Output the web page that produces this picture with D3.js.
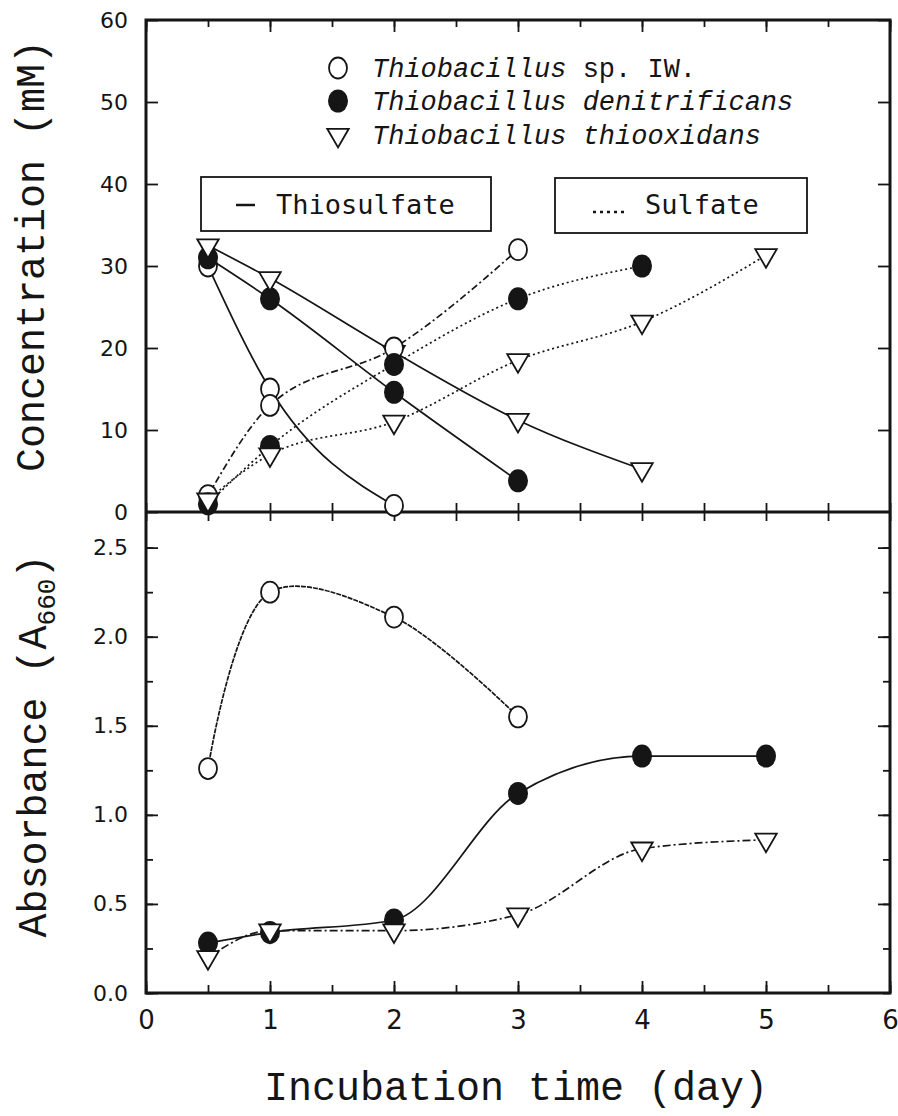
<!DOCTYPE html>
<html>
<head>
<meta charset="utf-8">
<script src="https://cdn.jsdelivr.net/npm/d3@7"></script>
<style>
  body { margin: 0; background: #fff; }
  svg { display: block; }
</style>
</head>
<body>
<div id="chart"></div>
<script>
// sampling days
const days = [0.5, 1, 2, 3, 4, 5]

// Concentration (mM) - thiosulfate
const thioIW = [30, 15, 0.8]
const thioDenit = [31, 26, 14.6, 3.8]
const thioOxid = [32.5, 28.5, 19.5, 11.2, 5.2]

// Concentration (mM) - sulfate
const sulfIW = [2, 13, 20, 32]
const sulfDenit = [1, 8, 18, 26, 30]
const sulfOxid = [1.5, 7, 11, 18.5, 23.2, 31.3]

// Absorbance (A660)
const absIW = [1.26, 2.25, 2.11, 1.55]
const absDenit = [0.28, 0.34, 0.41, 1.12, 1.33, 1.33]
const absOxid = [0.2, 0.35, 0.35, 0.44, 0.81, 0.86]

const xTicks = [0, 1, 2, 3, 4, 5, 6]
const concTicks = [0, 10, 20, 30, 40, 50, 60]
const absTicks = [0, 0.5, 1, 1.5, 2, 2.5]

const legendNames = [
  ["Thiobacillus", " sp. IW."],
  ["Thiobacillus denitrificans", ""],
  ["Thiobacillus thiooxidans", ""]
]

const width = 898
const height = 1116
const ink = "#151515"

const svg = d3.select("#chart")
  .append("svg")
  .attr("width", width)
  .attr("height", height)
  .attr("viewBox", `0 0 ${width} ${height}`)

const x = d3.scaleLinear().domain([0, 6]).range([146, 890])
const yC = d3.scaleLinear().domain([0, 60]).range([512, 20])
const yA = d3.scaleLinear().domain([0, 2.7]).range([993, 512])

const halfDays = d3.range(0, 6.01, 0.5)
const quarterAbs = d3.range(0, 2.7, 0.25)

// --- ticks (inward, no domain) ---
function tickAxis(axis, transform) {
  const g = svg.append("g")
    .attr("transform", transform)
    .call(axis)
  g.select(".domain").remove()
  g.selectAll(".tick line").attr("stroke", ink).attr("stroke-width", 1.8)
  g.selectAll("text").attr("fill", ink)
  return g
}

// top panel
tickAxis(d3.axisLeft(yC).tickValues(concTicks).tickSize(-12).tickPadding(18), "translate(146,0)")
  .selectAll("text")
  .attr("font-family", "DejaVu Sans")
  .attr("font-size", 22)
tickAxis(d3.axisRight(yC).tickValues(concTicks.slice(1)).tickSize(-12).tickFormat(""), "translate(890,0)")
tickAxis(d3.axisTop(x).tickValues(halfDays).tickSize(-7).tickFormat(""), "translate(0,20)")
tickAxis(d3.axisTop(x).tickValues(xTicks).tickSize(-12).tickFormat(""), "translate(0,20)")
tickAxis(d3.axisBottom(x).tickValues(halfDays).tickSize(-9).tickFormat(""), "translate(0,512)")

// bottom panel
tickAxis(d3.axisLeft(yA).tickValues(absTicks).tickSize(-12).tickPadding(18).tickFormat(d3.format(".1f")), "translate(146,0)")
  .selectAll("text")
  .attr("font-family", "DejaVu Sans")
  .attr("font-size", 22)
tickAxis(d3.axisLeft(yA).tickValues(quarterAbs).tickSize(-7).tickFormat(""), "translate(146,0)")
tickAxis(d3.axisRight(yA).tickValues(absTicks.slice(1)).tickSize(-12).tickFormat(""), "translate(890,0)")
tickAxis(d3.axisRight(yA).tickValues(quarterAbs).tickSize(-7).tickFormat(""), "translate(890,0)")
tickAxis(d3.axisTop(x).tickValues(halfDays).tickSize(-9).tickFormat(""), "translate(0,512)")
tickAxis(d3.axisBottom(x).tickValues(halfDays).tickSize(-8).tickFormat(""), "translate(0,993)")
tickAxis(d3.axisBottom(x).tickValues(xTicks).tickSize(-12).tickPadding(18).tickFormat(d3.format("d")), "translate(0,993)")
  .selectAll("text")
  .attr("font-family", "DejaVu Sans")
  .attr("font-size", 26)

// frame
svg.append("rect")
  .attr("x", 146).attr("y", 20)
  .attr("width", 744).attr("height", 973)
  .attr("fill", "none").attr("stroke", ink).attr("stroke-width", 3)
svg.append("line")
  .attr("x1", 146).attr("x2", 890)
  .attr("y1", 512).attr("y2", 512)
  .attr("stroke", ink).attr("stroke-width", 3)

// --- series ---
const series = [
  { v: thioIW, y: yC, mark: "open", dash: null, curve: d3.curveMonotoneX },
  { v: thioDenit, y: yC, mark: "filled", dash: null, curve: d3.curveMonotoneX },
  { v: thioOxid, y: yC, mark: "tri", dash: null, curve: d3.curveMonotoneX },
  { v: sulfIW, y: yC, mark: "open", dash: "7,3,2,3", curve: d3.curveMonotoneX },
  { v: sulfDenit, y: yC, mark: "filled", dash: "2,3", curve: d3.curveMonotoneX },
  { v: sulfOxid, y: yC, mark: "tri", dash: "2,3", curve: d3.curveMonotoneX },
  { v: absIW, y: yA, mark: "open", dash: "5,1", curve: d3.curveCatmullRom },
  { v: absDenit, y: yA, mark: "filled", dash: null, curve: d3.curveMonotoneX },
  { v: absOxid, y: yA, mark: "tri", dash: "8,3,2,3", curve: d3.curveMonotoneX }
]

series.forEach(s => {
  const pts = s.v.map((d, i) => [days[i], d])
  svg.append("path")
    .datum(pts)
    .attr("fill", "none")
    .attr("stroke", ink)
    .attr("stroke-width", 1.7)
    .attr("stroke-dasharray", s.dash)
    .attr("d", d3.line().x(d => x(d[0])).y(d => s.y(d[1])).curve(s.curve))
})

const triangle = d3.symbol().type(d3.symbolTriangle).size(200)

function drawMark(g, kind, cx, cy) {
  if (kind === "open") {
    g.append("ellipse")
      .attr("cx", cx).attr("cy", cy).attr("rx", 9).attr("ry", 10.5)
      .attr("fill", "#fff").attr("stroke", ink).attr("stroke-width", 1.8)
  } else if (kind === "filled") {
    g.append("ellipse")
      .attr("cx", cx).attr("cy", cy).attr("rx", 10).attr("ry", 11.5)
      .attr("fill", ink)
  } else {
    g.append("path")
      .attr("d", triangle())
      .attr("transform", `translate(${cx},${cy}) rotate(180)`)
      .attr("fill", "#fff").attr("stroke", ink).attr("stroke-width", 1.8)
  }
}

const marks = svg.append("g")
series.forEach(s => {
  s.v.forEach((d, i) => drawMark(marks, s.mark, x(days[i]), s.y(d)))
})

// --- legend ---
const kinds = ["open", "filled", "tri"]
const legendY = [68, 101, 135]
legendNames.forEach((n, i) => {
  drawMark(svg, kinds[i], 338, legendY[i])
  const t = svg.append("text")
    .attr("x", 372)
    .attr("y", legendY[i] + 9)
    .attr("font-family", "Liberation Mono")
    .attr("font-size", 27)
    .attr("fill", ink)
  const parts = n[0].split(" ")
  t.append("tspan").attr("font-style", "italic").text(parts[0])
  if (parts[1]) t.append("tspan").attr("font-style", "italic").text(" " + parts[1])
  if (n[1]) t.append("tspan").text(n[1])
})

// line-type boxes
svg.append("rect")
  .attr("x", 201).attr("y", 177).attr("width", 290).attr("height", 54)
  .attr("fill", "none").attr("stroke", ink).attr("stroke-width", 1.8)
svg.append("rect")
  .attr("x", 555).attr("y", 178).attr("width", 252).attr("height", 55)
  .attr("fill", "none").attr("stroke", ink).attr("stroke-width", 1.8)
svg.append("line")
  .attr("x1", 236).attr("x2", 255).attr("y1", 205).attr("y2", 205)
  .attr("stroke", ink).attr("stroke-width", 2.5)
svg.append("text")
  .attr("x", 276).attr("y", 214)
  .attr("font-family", "DejaVu Sans Mono")
  .attr("font-size", 27)
  .attr("fill", ink)
  .text("Thiosulfate")
svg.append("line")
  .attr("x1", 593).attr("x2", 628).attr("y1", 212).attr("y2", 212)
  .attr("stroke", ink).attr("stroke-width", 2.5)
  .attr("stroke-dasharray", "3,4")
svg.append("text")
  .attr("x", 645).attr("y", 214)
  .attr("font-family", "DejaVu Sans Mono")
  .attr("font-size", 27)
  .attr("fill", ink)
  .text("Sulfate")

// --- axis titles ---
svg.append("text")
  .attr("transform", "translate(44,256) rotate(-90)")
  .attr("text-anchor", "middle")
  .attr("font-family", "Liberation Mono")
  .attr("font-size", 40)
  .attr("fill", ink)
  .text("Concentration (mM)")

const absTitle = svg.append("text")
  .attr("transform", "translate(46,746) rotate(-90)")
  .attr("text-anchor", "middle")
  .attr("font-family", "Liberation Mono")
  .attr("font-size", 40)
  .attr("fill", ink)
absTitle.append("tspan").text("Absorbance (A")
absTitle.append("tspan").attr("font-size", 26).attr("dy", 9).text("660")
absTitle.append("tspan").attr("dy", -9).text(")")

svg.append("text")
  .attr("x", 516)
  .attr("y", 1100)
  .attr("text-anchor", "middle")
  .attr("font-family", "Liberation Mono")
  .attr("font-size", 40)
  .attr("fill", ink)
  .text("Incubation time (day)")
</script>
</body>
</html>
